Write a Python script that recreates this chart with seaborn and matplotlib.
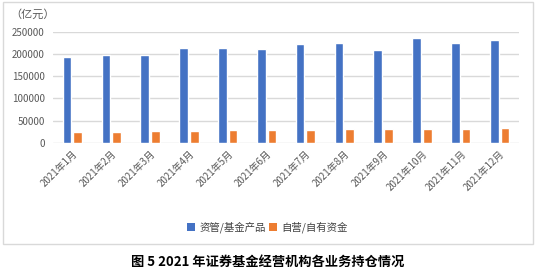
import matplotlib
matplotlib.use("Agg")
import matplotlib.pyplot as plt
import seaborn as sns
import pandas as pd
from matplotlib.patches import Rectangle, Patch

months = ["2021年1月", "2021年2月", "2021年3月", "2021年4月", "2021年5月", "2021年6月",
          "2021年7月", "2021年8月", "2021年9月", "2021年10月", "2021年11月", "2021年12月"]
asset_mgmt = [193000, 197000, 197000, 214000, 214000, 212000,
              222000, 225000, 210000, 236000, 225000, 232000]
proprietary = [24600, 24600, 26900, 26900, 29100, 29100,
               28300, 30600, 31300, 31300, 31300, 33600]
series_names = ["资管/基金产品", "自营/自有资金"]
colors = ["#4472C4", "#ED7D31"]
yticks = [0, 50000, 100000, 150000, 200000, 250000]

df = pd.DataFrame({
    "month": months * 2,
    "value": asset_mgmt + proprietary,
    "series": [series_names[0]] * len(months) + [series_names[1]] * len(months),
})

sns.set_theme(style="white")
plt.rcParams["font.family"] = ["Noto Sans CJK SC", "DejaVu Sans"]

W, H = 536, 274
fig = plt.figure(figsize=(W / 100, H / 100), dpi=100)
ax = fig.add_axes([53 / W, 1 - 143 / H, (519 - 53) / W, (143 - 31.7) / H])

sns.barplot(data=df, x="month", y="value", hue="series", order=months,
            hue_order=series_names, palette=colors, width=0.55, gap=0.18,
            saturation=1, ax=ax, legend=False, zorder=3)

ax.set_ylim(0, 250000)
ax.set_xlim(-0.5, len(months) - 0.5)
ax.set_yticks(yticks)
ax.set_yticklabels([str(v) for v in yticks])
ax.yaxis.grid(True, color="#D9D9D9", linewidth=1.0, zorder=0)
ax.set_axisbelow(True)
for s in ax.spines.values():
    s.set_visible(False)
ax.set_xlabel("")
ax.set_ylabel("")
ax.tick_params(axis="y", length=0, pad=6, labelsize=7, labelcolor="#595959")
ax.tick_params(axis="x", length=0, pad=4, labelsize=7, labelcolor="#595959")
for lbl in ax.get_xticklabels():
    lbl.set_rotation(45)
    lbl.set_ha("right")
    lbl.set_rotation_mode("anchor")

fig.text(10 / W, 1 - 14 / H, "（亿元）", fontsize=8, color="#595959", va="center", ha="left")

handles = [Patch(facecolor=c, edgecolor="none") for c in colors]
fig.legend(handles, series_names, loc="center", bbox_to_anchor=(267 / W, 1 - 227 / H),
           ncol=2, frameon=False, fontsize=7.5, handlelength=0.8, handleheight=0.8,
           handletextpad=0.4, columnspacing=0.3, labelcolor="#404040")

fig.patches.append(Rectangle((3 / W, 1 - 244 / H), (533 - 3) / W, (244 - 2) / H,
                             transform=fig.transFigure, fill=False,
                             edgecolor="#D9D9D9", linewidth=1.0))

fig.text(268 / W, 1 - 262 / H, "图 5 2021 年证券基金经营机构各业务持仓情况",
         fontsize=9.5, fontweight="bold", color="black", ha="center", va="center")

fig.savefig("out.png", dpi=100)
